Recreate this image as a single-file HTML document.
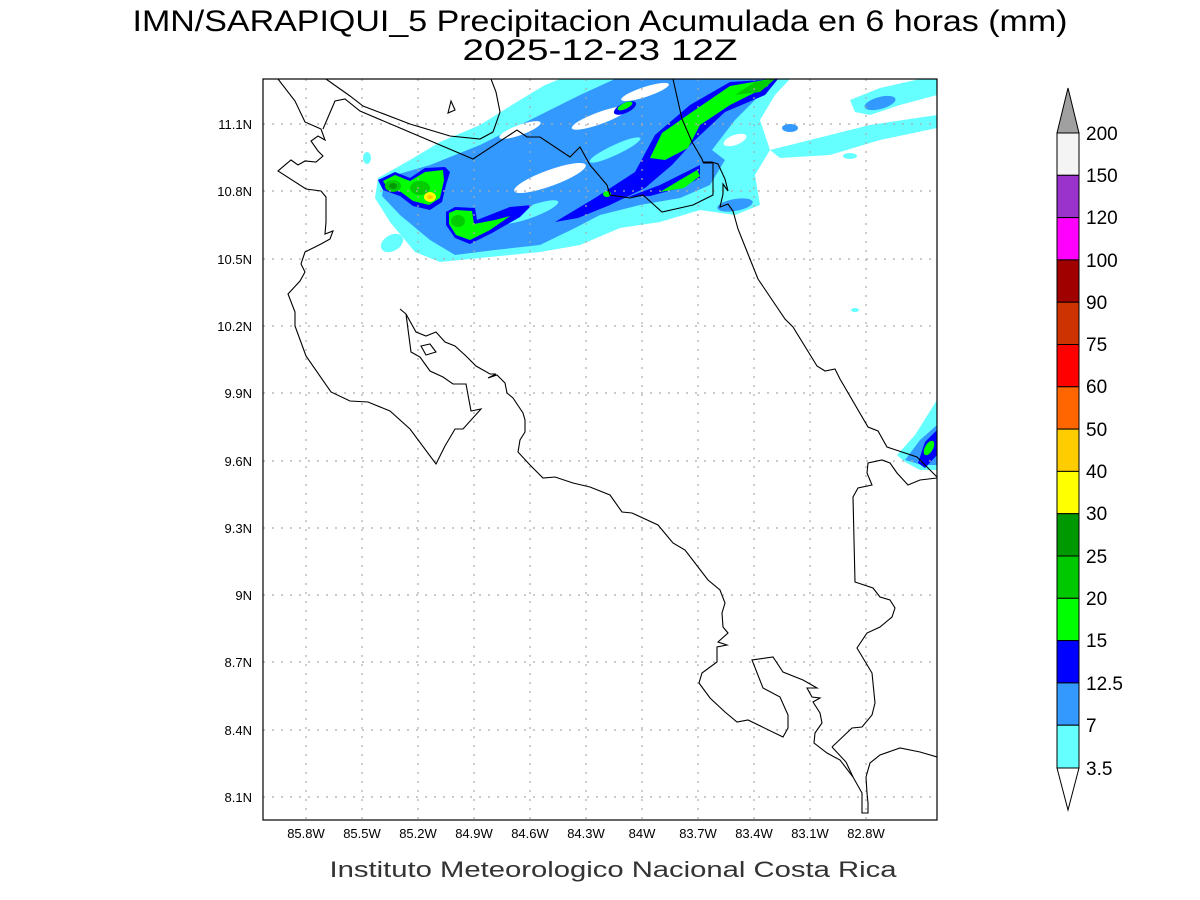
<!DOCTYPE html>
<html><head><meta charset="utf-8"><style>body{margin:0;background:#fff}svg{display:block}</style></head>
<body>
<svg width="1200" height="900" viewBox="0 0 1200 900" xmlns="http://www.w3.org/2000/svg" font-family="Liberation Sans, sans-serif">
<rect width="1200" height="900" fill="#fff"/>
<text x="600" y="31" font-size="30" text-anchor="middle" textLength="935" lengthAdjust="spacingAndGlyphs">IMN/SARAPIQUI_5 Precipitacion Acumulada en 6 horas (mm)</text>
<text x="600" y="60" font-size="30" text-anchor="middle" textLength="275" lengthAdjust="spacingAndGlyphs">2025-12-23 12Z</text>
<defs><clipPath id="c"><rect x="263" y="79" width="674" height="741"/></clipPath></defs>
<g clip-path="url(#c)">
<!-- precip -->
<g>
<polygon fill="#66ffff" points="378,178 410,160 440,142 480,125 520,100 545,85 560,79 790,79 775,95 760,120 770,150 755,175 760,205 735,215 700,210 660,222 620,228 580,245 540,252 500,256 460,260 440,262 415,252 390,222 375,198"/>
<polygon fill="#66ffff" points="850,100 880,88 920,79 937,79 937,95 900,105 870,115 855,112"/>
<polygon fill="#66ffff" points="770,150 830,135 870,125 937,115 937,128 880,140 830,155 780,158"/>
<ellipse cx="367" cy="158" rx="4" ry="6" fill="#66ffff"/>
<ellipse cx="392" cy="243" rx="12" ry="8" fill="#66ffff" transform="rotate(-30 392 243)"/>
<ellipse cx="855" cy="310" rx="4" ry="2" fill="#66ffff"/>
<ellipse cx="850" cy="156" rx="7" ry="3" fill="#66ffff"/>
<polygon fill="#3399ff" points="385,178 430,165 480,145 530,120 580,95 615,79 770,79 755,100 735,120 712,150 725,160 710,185 680,198 640,205 600,215 575,228 540,245 495,250 455,255 430,240 400,215 382,196"/>
<ellipse cx="880" cy="103" rx="16" ry="6" fill="#3399ff" transform="rotate(-15 880 103)"/>
<ellipse cx="735" cy="205" rx="18" ry="6" fill="#3399ff" transform="rotate(-10 735 205)"/>
<ellipse cx="790" cy="128" rx="8" ry="4" fill="#3399ff"/>
<!-- white holes -->
<ellipse cx="550" cy="178" rx="38" ry="8" fill="#fff" transform="rotate(-20 550 178)"/>
<ellipse cx="520" cy="130" rx="22" ry="5" fill="#fff" transform="rotate(-20 520 130)"/>
<ellipse cx="600" cy="118" rx="30" ry="6" fill="#fff" transform="rotate(-20 600 118)"/>
<ellipse cx="645" cy="92" rx="25" ry="5" fill="#fff" transform="rotate(-18 645 92)"/>
<ellipse cx="615" cy="150" rx="28" ry="5" fill="#66ffff" transform="rotate(-25 615 150)"/>
<ellipse cx="530" cy="212" rx="30" ry="6" fill="#66ffff" transform="rotate(-20 530 212)"/>
<ellipse cx="735" cy="140" rx="12" ry="5" fill="#fff" transform="rotate(-20 735 140)"/>
<!-- blue -->
<polygon fill="#0000ff" points="555,222 595,198 635,172 655,135 690,105 730,82 778,79 765,95 725,112 695,140 672,165 645,188 610,205 578,218"/>
<polygon fill="#0000ff" points="628,197 660,185 690,170 700,165 700,178 680,188 650,196"/>
<ellipse cx="625" cy="108" rx="12" ry="5" fill="#0000ff" transform="rotate(-25 625 108)"/>
<!-- green -->
<polygon fill="#00ff00" points="650,158 662,133 692,112 730,86 770,79 768,86 730,105 700,125 688,148 665,160"/>
<polygon fill="#00ff00" points="660,192 680,180 697,170 700,176 684,188"/>
<ellipse cx="625" cy="106" rx="8" ry="3" fill="#00ff00" transform="rotate(-25 625 106)"/>
<ellipse cx="607" cy="194" rx="4" ry="3" fill="#00ff00"/>
<polygon fill="#00cc00" points="735,95 755,82 775,79 760,92"/>
<!-- left cluster -->
<polygon fill="#0000ff" points="378,180 395,172 410,178 425,168 445,167 450,172 446,185 442,202 430,210 413,206 400,196 383,190"/>
<polygon fill="#00ff00" points="383,181 395,175 410,181 425,172 443,170 444,180 440,198 429,205 413,201 401,192 387,187"/>
<ellipse cx="393" cy="186" rx="8" ry="6" fill="#00cc00"/>
<ellipse cx="420" cy="188" rx="10" ry="7" fill="#00cc00"/>
<ellipse cx="393" cy="186" rx="4" ry="3" fill="#009900"/>
<ellipse cx="430" cy="197" rx="6" ry="5" fill="#ffff00"/>
<ellipse cx="430" cy="197" rx="3" ry="2" fill="#ffcc00"/>
<polygon fill="#0000ff" points="446,212 455,207 475,208 477,220 510,207 532,205 520,217 492,233 470,244 455,238 446,225"/>
<polygon fill="#00ff00" points="449,213 456,210 472,211 474,224 495,220 510,216 490,230 470,240 456,235 449,224"/>
<ellipse cx="458" cy="221" rx="7" ry="6" fill="#00cc00"/>
<!-- right lower cluster -->
<polygon fill="#66ffff" points="897,455 915,435 937,400 937,470 920,470 905,462"/>
<polygon fill="#3399ff" points="905,460 920,440 937,425 937,465 922,465"/>
<polygon fill="#0000ff" points="918,463 925,442 937,430 937,455 925,468"/>
<ellipse cx="929" cy="448" rx="4" ry="8" fill="#00ff00" transform="rotate(30 929 448)"/>
</g>
<!-- grid -->
<g stroke="#aaa" stroke-width="1.2" stroke-dasharray="2,7">
<line x1="306" y1="79" x2="306" y2="820"/><line x1="362" y1="79" x2="362" y2="820"/><line x1="418" y1="79" x2="418" y2="820"/><line x1="474" y1="79" x2="474" y2="820"/><line x1="530" y1="79" x2="530" y2="820"/><line x1="586" y1="79" x2="586" y2="820"/><line x1="642" y1="79" x2="642" y2="820"/><line x1="698" y1="79" x2="698" y2="820"/><line x1="754" y1="79" x2="754" y2="820"/><line x1="810" y1="79" x2="810" y2="820"/><line x1="866" y1="79" x2="866" y2="820"/>
<line x1="263" y1="124" x2="937" y2="124"/><line x1="263" y1="191" x2="937" y2="191"/><line x1="263" y1="259" x2="937" y2="259"/><line x1="263" y1="326" x2="937" y2="326"/><line x1="263" y1="393" x2="937" y2="393"/><line x1="263" y1="461" x2="937" y2="461"/><line x1="263" y1="528" x2="937" y2="528"/><line x1="263" y1="595" x2="937" y2="595"/><line x1="263" y1="662" x2="937" y2="662"/><line x1="263" y1="730" x2="937" y2="730"/><line x1="263" y1="797" x2="937" y2="797"/>
</g>
<!-- coasts -->
<g fill="none" stroke="#000" stroke-width="1.1">
<polyline points="278,79 295,101 305,122 321,129 325,140 318,136 311,141 318,151 323,156 316,162 305,161 298,165 291,160 278,171 306,189 321,191 326,197 326,222 325,234 333,231 330,239 321,244 305,252 301,264 305,272 300,281 288,294 295,312 295,326 306,356 331,392 350,401 368,402 390,411 410,429 436,464 445,446 455,429 463,429 481,409 471,411 466,384 453,384 443,377 430,371 420,357 411,352 406,314 400,309"/>
<polyline points="406,314 416,332 426,336 436,332 445,342 455,346 466,356 476,366 490,374 496,374 488,378 497,375 505,383 507,393 513,398 523,413 525,420 525,432 520,440 518,452 530,465 543,478 555,477 573,483 590,487 610,495 622,512 632,513 658,525 673,543 685,550 695,563 708,580 720,590 725,603 722,613 723,627 728,633 718,642 727,645 717,647 717,662 702,673 699,683 710,698 725,712 737,722 748,720 783,737 788,728 788,715 780,697 763,688 752,660 773,657 783,672 803,680 817,688 807,688 812,697 820,698 813,702 820,713 822,723 815,733 814,743 827,753 840,760 853,777 862,793 862,813 868,813 868,803 867,793 866,777 870,763 880,755 900,748 920,752 937,757"/>
<polyline points="832,747 852,728 862,727 872,715 875,703 872,673 860,653 857,648 867,633 880,627 892,617 895,608 890,600 880,597 873,588 855,582 853,497 858,488 872,485 867,473 868,463 882,460 890,463 897,473 908,485 920,480 937,478"/>
<polyline points="832,747 846,762 853,777"/>
<polyline points="673,79 682,119 692,142 702,159 703,162 712,162 718,164 725,179 728,191 723,184 723,194 720,207 728,204 733,211 738,229 748,254 758,279 785,319 793,327 817,366 825,371 835,369 840,379 868,427 878,431 887,447 917,457 937,477"/>
<polyline points="326,79 350,96 363,106 410,124 450,136 480,139 493,132 500,112 496,92 491,79"/>
<polyline points="323,129 335,101 345,99 360,111 473,159 517,130 527,137 540,137 570,157 580,147 590,165 607,185 610,195 630,198 643,195 662,212 693,205 713,195 713,163 703,163"/>
<polygon points="451,101 455,110 448,113"/>
<polygon points="421,346 430,344 436,352 426,355"/>
</g>
</g>
<rect x="263" y="79" width="674" height="741" fill="none" stroke="#000" stroke-width="1.2"/>
<!-- axis labels -->
<g font-size="13" text-anchor="middle">
<text x="306" y="838">85.8W</text><text x="362" y="838">85.5W</text><text x="418" y="838">85.2W</text><text x="474" y="838">84.9W</text><text x="530" y="838">84.6W</text><text x="586" y="838">84.3W</text><text x="642" y="838">84W</text><text x="698" y="838">83.7W</text><text x="754" y="838">83.4W</text><text x="810" y="838">83.1W</text><text x="866" y="838">82.8W</text>
</g>
<g font-size="13" text-anchor="end">
<text x="252" y="129">11.1N</text><text x="252" y="196">10.8N</text><text x="252" y="264">10.5N</text><text x="252" y="331">10.2N</text><text x="252" y="398">9.9N</text><text x="252" y="466">9.6N</text><text x="252" y="533">9.3N</text><text x="252" y="600">9N</text><text x="252" y="667">8.7N</text><text x="252" y="735">8.4N</text><text x="252" y="802">8.1N</text>
</g>
<text x="613" y="877" font-size="22" text-anchor="middle" fill="#333" textLength="567" lengthAdjust="spacingAndGlyphs">Instituto Meteorologico Nacional Costa Rica</text>
<!-- colorbar -->
<g stroke="#000" stroke-width="1">
<polygon points="1057,133 1068,88 1079,133" fill="#a0a0a0"/>
<rect x="1057" y="133" width="22" height="42.3" fill="#f4f4f4"/>
<rect x="1057" y="175.3" width="22" height="42.3" fill="#9933cc"/>
<rect x="1057" y="217.6" width="22" height="42.3" fill="#ff00ff"/>
<rect x="1057" y="259.9" width="22" height="42.3" fill="#a00000"/>
<rect x="1057" y="302.2" width="22" height="42.3" fill="#cc3300"/>
<rect x="1057" y="344.5" width="22" height="42.3" fill="#ff0000"/>
<rect x="1057" y="386.8" width="22" height="42.3" fill="#ff6600"/>
<rect x="1057" y="429.1" width="22" height="42.3" fill="#ffcc00"/>
<rect x="1057" y="471.4" width="22" height="42.3" fill="#ffff00"/>
<rect x="1057" y="513.7" width="22" height="42.3" fill="#009900"/>
<rect x="1057" y="556" width="22" height="42.3" fill="#00c800"/>
<rect x="1057" y="598.3" width="22" height="42.3" fill="#00ff00"/>
<rect x="1057" y="640.6" width="22" height="42.3" fill="#0000ff"/>
<rect x="1057" y="682.9" width="22" height="42.3" fill="#3399ff"/>
<rect x="1057" y="725.2" width="22" height="42.8" fill="#66ffff"/>
<polygon points="1057,768 1068,810 1079,768" fill="#fff"/>
</g>
<g font-size="19">
<text x="1086" y="140">200</text><text x="1086" y="182">150</text><text x="1086" y="224">120</text><text x="1086" y="267">100</text><text x="1086" y="309">90</text><text x="1086" y="351">75</text><text x="1086" y="393">60</text><text x="1086" y="436">50</text><text x="1086" y="478">40</text><text x="1086" y="520">30</text><text x="1086" y="563">25</text><text x="1086" y="605">20</text><text x="1086" y="647">15</text><text x="1086" y="690">12.5</text><text x="1086" y="732">7</text><text x="1086" y="775">3.5</text>
</g>
</svg>
</body></html>
